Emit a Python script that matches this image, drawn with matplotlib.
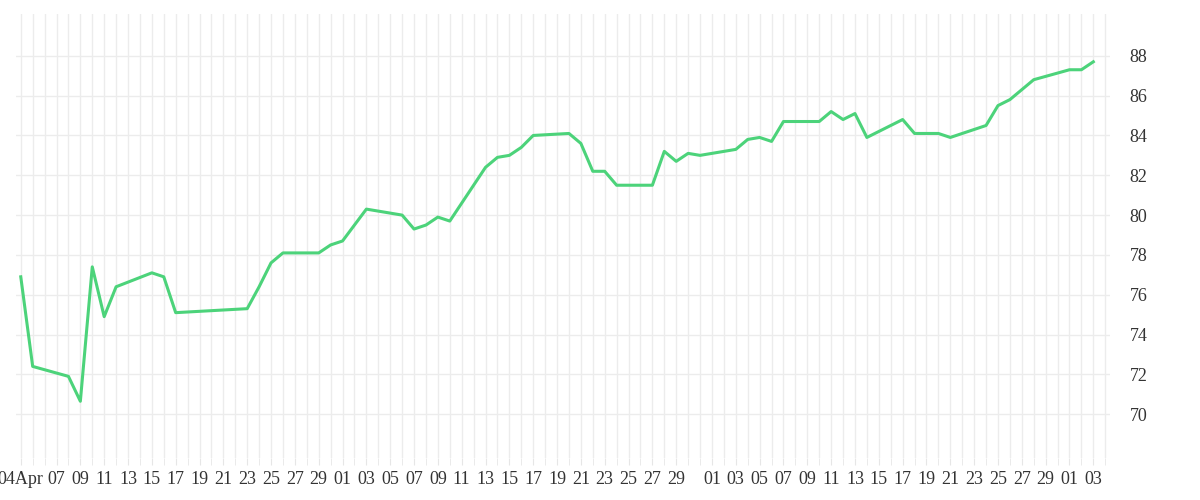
import matplotlib
matplotlib.use("Agg")
import matplotlib.pyplot as plt
import matplotlib.transforms as mtransforms
import numpy as np

days = [0,1,4,5,6,7,8,11,12,13,19,20,21,22,25,26,27,29,32,33,34,35,36,39,40,41,42,43,46,47,48,49,50,53,54,55,56,57,60,61,62,63,64,67,68,69,70,71,74,75,77,78,81,82,83,84,85,88,89,90]
values = [76.9,72.4,71.9,70.65,77.4,74.9,76.4,77.1,76.9,75.1,75.3,76.4,77.6,78.1,78.1,78.5,78.7,80.3,80.0,79.3,79.5,79.9,79.7,82.4,82.9,83.0,83.4,84.0,84.1,83.6,82.2,82.2,81.5,81.5,83.2,82.7,83.1,83.0,83.3,83.8,83.9,83.7,84.7,84.7,85.2,84.8,85.1,83.9,84.8,84.1,84.1,83.9,84.5,85.5,85.8,86.3,86.8,87.3,87.3,87.7]
tick_days = [0,3,5,7,9,11,13,15,17,19,21,23,25,27,29,31,33,35,37,39,41,43,45,47,49,51,53,55,58,60,62,64,66,68,70,72,74,76,78,80,82,84,86,88,90]
tick_labels = ["04Apr","07","09","11","13","15","17","19","21","23","25","27","29","01","03","05","07","09","11","13","15","17","19","21","23","25","27","29","01","03","05","07","09","11","13","15","17","19","21","23","25","27","29","01","03"]
y_ticks = [70,72,74,76,78,80,82,84,86,88]

plt.rcParams['font.family'] = ['Liberation Serif', 'DejaVu Serif']
fig = plt.figure(figsize=(12,5), dpi=100)
ax = fig.add_axes([16/1200, 42/500, 1094/1200, 444/500])
ax.plot(days, values, color="#4cd37a", lw=2.2, solid_joinstyle="round")
ax.set_xlim(-0.4, 91.4)
ax.set_ylim(67.8, 90.1)
ax.set_xticks(np.arange(0, 92), minor=True)
ax.set_xticks(tick_days)
ax.set_xticklabels(tick_labels, fontsize=13, color="#333333")
offset = mtransforms.ScaledTranslation(6/100, 0, fig.dpi_scale_trans)
for lbl in ax.get_xticklabels():
    lbl.set_transform(lbl.get_transform() + offset)
ax.set_yticks(y_ticks)
ax.set_yticklabels([str(v) for v in y_ticks], fontsize=13, color="#333333")
ax.yaxis.tick_right()
ax.tick_params(axis='y', length=0, pad=14)
ax.tick_params(axis='x', which='both', length=5, color="#e6e6e6", pad=4)
ax.grid(True, which='both', axis='x', color="#ececec", lw=1)
ax.grid(True, which='major', axis='y', color="#ececec", lw=1)
for s in ax.spines.values():
    s.set_visible(False)
ax.set_axisbelow(True)
fig.savefig("out.png", dpi=100)
